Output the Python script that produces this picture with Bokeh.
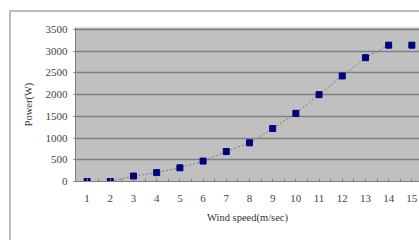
from bokeh.plotting import figure
from bokeh.models import FixedTicker, Range1d, InlineStyleSheet
from bokeh.embed import file_html
from bokeh.resources import INLINE

wind_speed = [1, 2, 3, 4, 5, 6, 7, 8, 9, 10, 11, 12, 13, 14, 15]
power = [0, 0, 125, 205, 315, 470, 690, 890, 1220, 1570, 2000, 2430, 2850, 3140, 3140]
line_x = wind_speed[:14]
line_y = power[:14]
y_ticks = [0, 500, 1000, 1500, 2000, 2500, 3000, 3500]

frame_css = InlineStyleSheet(css="""
:host { position: relative; }
:host::after {
  content: "";
  position: absolute;
  left: 9px;
  top: 10px;
  width: 430px;
  height: 260px;
  border-left: 2px solid #BDBDBD;
  border-top: 2px solid #BDBDBD;
  pointer-events: none;
  box-sizing: border-box;
}
""")

p = figure(width=419, height=240, output_backend="svg", toolbar_location=None,
           x_range=Range1d(0.5, 15.33), y_range=Range1d(0, 3546),
           min_border_left=75, min_border_right=0, min_border_top=27, min_border_bottom=59,
           border_fill_color="white", stylesheets=[frame_css])
p.background_fill_color = "#C0C0C0"
p.outline_line_color = None

p.line(line_x, line_y, line_color="#7A7A7A", line_width=1, line_dash="2 2")
p.scatter(wind_speed, power, marker="square", size=6, fill_color="#000080", line_color="#000080")

p.xgrid.grid_line_color = None
p.ygrid.grid_line_color = "#7F7F7F"
p.ygrid.grid_line_width = 1.5
p.ygrid.ticker = FixedTicker(ticks=y_ticks)

p.xaxis.ticker = FixedTicker(ticks=wind_speed, minor_ticks=[x + 0.5 for x in range(0, 16)])
p.yaxis.ticker = FixedTicker(ticks=y_ticks)

for ax in (p.xaxis[0], p.yaxis[0]):
    ax.axis_line_color = "#808080"
    ax.major_tick_line_color = "#808080"
    ax.minor_tick_line_color = "#808080"
    ax.major_label_text_font = "Liberation Serif"
    ax.major_label_text_font_size = "11px"
    ax.major_label_text_color = "#444444"
    ax.axis_label_text_font = "Liberation Serif"
    ax.axis_label_text_font_size = "10.5px"
    ax.axis_label_text_font_style = "normal"
    ax.axis_label_text_color = "#333333"

p.xaxis.major_tick_in = 3
p.xaxis.major_tick_out = 0
p.xaxis.minor_tick_in = 3
p.xaxis.minor_tick_out = 0
p.xaxis.major_label_standoff = 13
p.xaxis.axis_label = "Wind speed(m/sec)"
p.xaxis.axis_label_standoff = 7

p.yaxis.major_tick_in = 0
p.yaxis.major_tick_out = 2
p.yaxis.minor_tick_line_color = None
p.yaxis.major_label_standoff = 6
p.yaxis.axis_label = "Power(W)"
p.yaxis.axis_label_standoff = 9

open("out.html", "w").write(file_html(p, INLINE))
